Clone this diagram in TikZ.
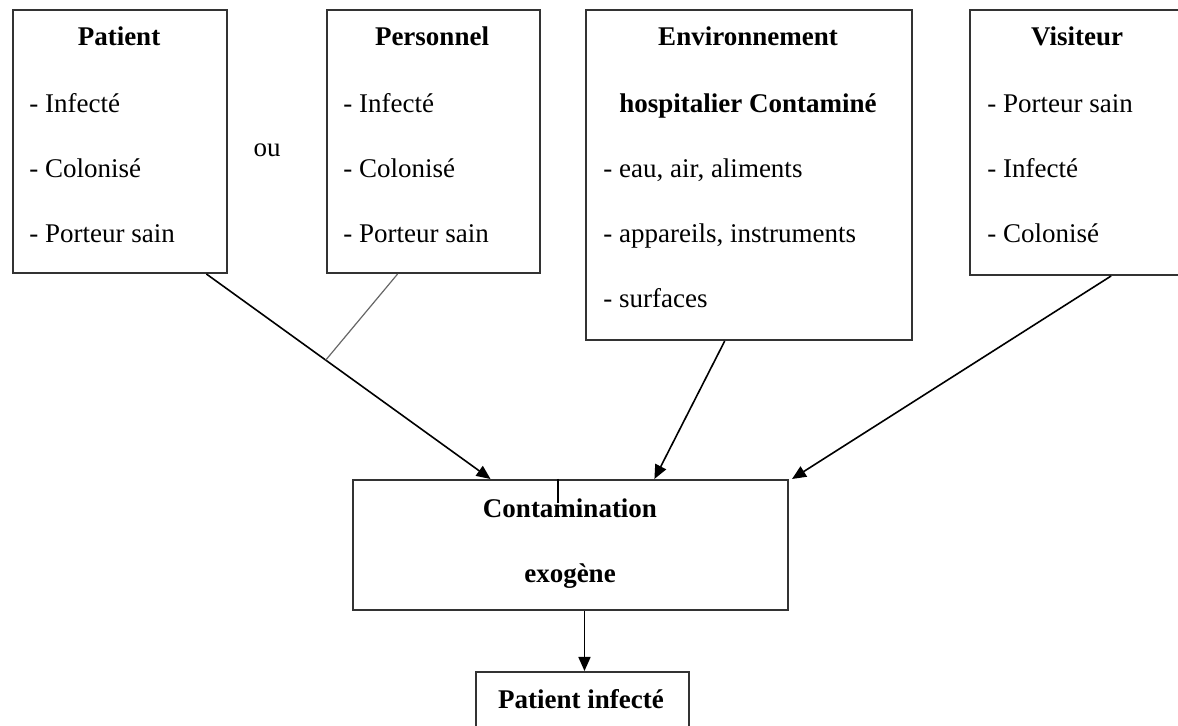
\documentclass[tikz,border=0pt]{standalone}
\usepackage{fontspec}
\setmainfont{Liberation Serif}
\usetikzlibrary{arrows.meta,calc}
\begin{document}
\begin{tikzpicture}[x=0.5pt, y=-0.5pt,
    box/.style={draw=black!80, line width=1pt, anchor=north west, inner sep=0pt},
    txt/.style={anchor=base west, inner sep=0pt, font=\fontsize{13.5}{16}\selectfont},
    ttl/.style={anchor=base, inner sep=0pt, font=\fontsize{13.5}{16}\selectfont\bfseries},
    link/.style={line width=0.8pt, -{Triangle[length=7pt,width=6pt]}}]
    \useasboundingbox (0,0) rectangle (1178,726);
    % boxes
    \node[box, minimum width=107pt, minimum height=131.5pt] (pat) at (12,9) {};
    \node[box, minimum width=106.5pt, minimum height=131.5pt] (pers) at (326,9) {};
    \node[box, minimum width=163pt, minimum height=165pt] (env) at (585,9) {};
    \node[box, minimum width=110pt, minimum height=132.5pt] (vis) at (969,9) {};
    \node[box, minimum width=217.5pt, minimum height=65pt] (cont) at (352,479) {};
    \node[box, minimum width=106.5pt, minimum height=35pt] (inf) at (475,671) {};
    % texts
    \node[ttl] (pat-t) at (119,46) {Patient};
    \node[txt] (pat-1) at (29,113) {- Infecté}; \node[txt] (pat-2) at (29,178) {- Colonisé}; \node[txt] (pat-3) at (29,243) {- Porteur sain};
    \node[txt, anchor=base] (ou) at (267,157) {ou};
    \node[ttl] (pers-t) at (432,46) {Personnel};
    \node[txt] (pers-1) at (343,113) {- Infecté}; \node[txt] (pers-2) at (343,178) {- Colonisé}; \node[txt] (pers-3) at (343,243) {- Porteur sain};
    \node[ttl] (env-t) at (748,46) {Environnement}; \node[ttl] (env-u) at (748,113) {hospitalier Contaminé};
    \node[txt] (env-1) at (603,178) {- eau, air, aliments}; \node[txt] (env-2) at (603,243) {- appareils, instruments}; \node[txt] (env-3) at (603,308) {- surfaces};
    \node[ttl] (vis-t) at (1077,46) {Visiteur};
    \node[txt] (vis-1) at (987,113) {- Porteur sain}; \node[txt] (vis-2) at (987,178) {- Infecté}; \node[txt] (vis-3) at (987,243) {- Colonisé};
    \node[ttl] (cont-t) at (570,518) {Contamination}; \node[ttl] (cont-u) at (570,583) {exogène};
    \node[ttl] (inf-t) at (581,708) {Patient infecté};
    % connectors
    \coordinate (patout) at ($(pat.south west)!0.9!(pat.south east)$);
    \coordinate (contin) at ($(cont.north west)!0.317!(cont.north east)$);
    \draw[link] (patout) -- (contin);
    \draw[black!60, line width=0.6pt] ($(pers.south west)!0.333!(pers.south east)$) -- ($(patout)!0.42!(contin)$);
    \draw[link] ($(env.south west)!0.426!(env.south east)$) -- ($(cont.north west)!0.692!(cont.north east)$);
    \draw[link] ($(vis.south west)!0.64!(vis.south east)$) -- ([xshift=1.5pt]cont.north east);
    \draw[line width=1.2pt] ($(cont.north west)!0.471!(cont.north east)$) -- ++(0,24);
    \coordinate (contout) at ($(cont.south west)!0.532!(cont.south east)$);
    \draw[link] (contout) -- (contout |- inf.north);
\end{tikzpicture}
\end{document}
